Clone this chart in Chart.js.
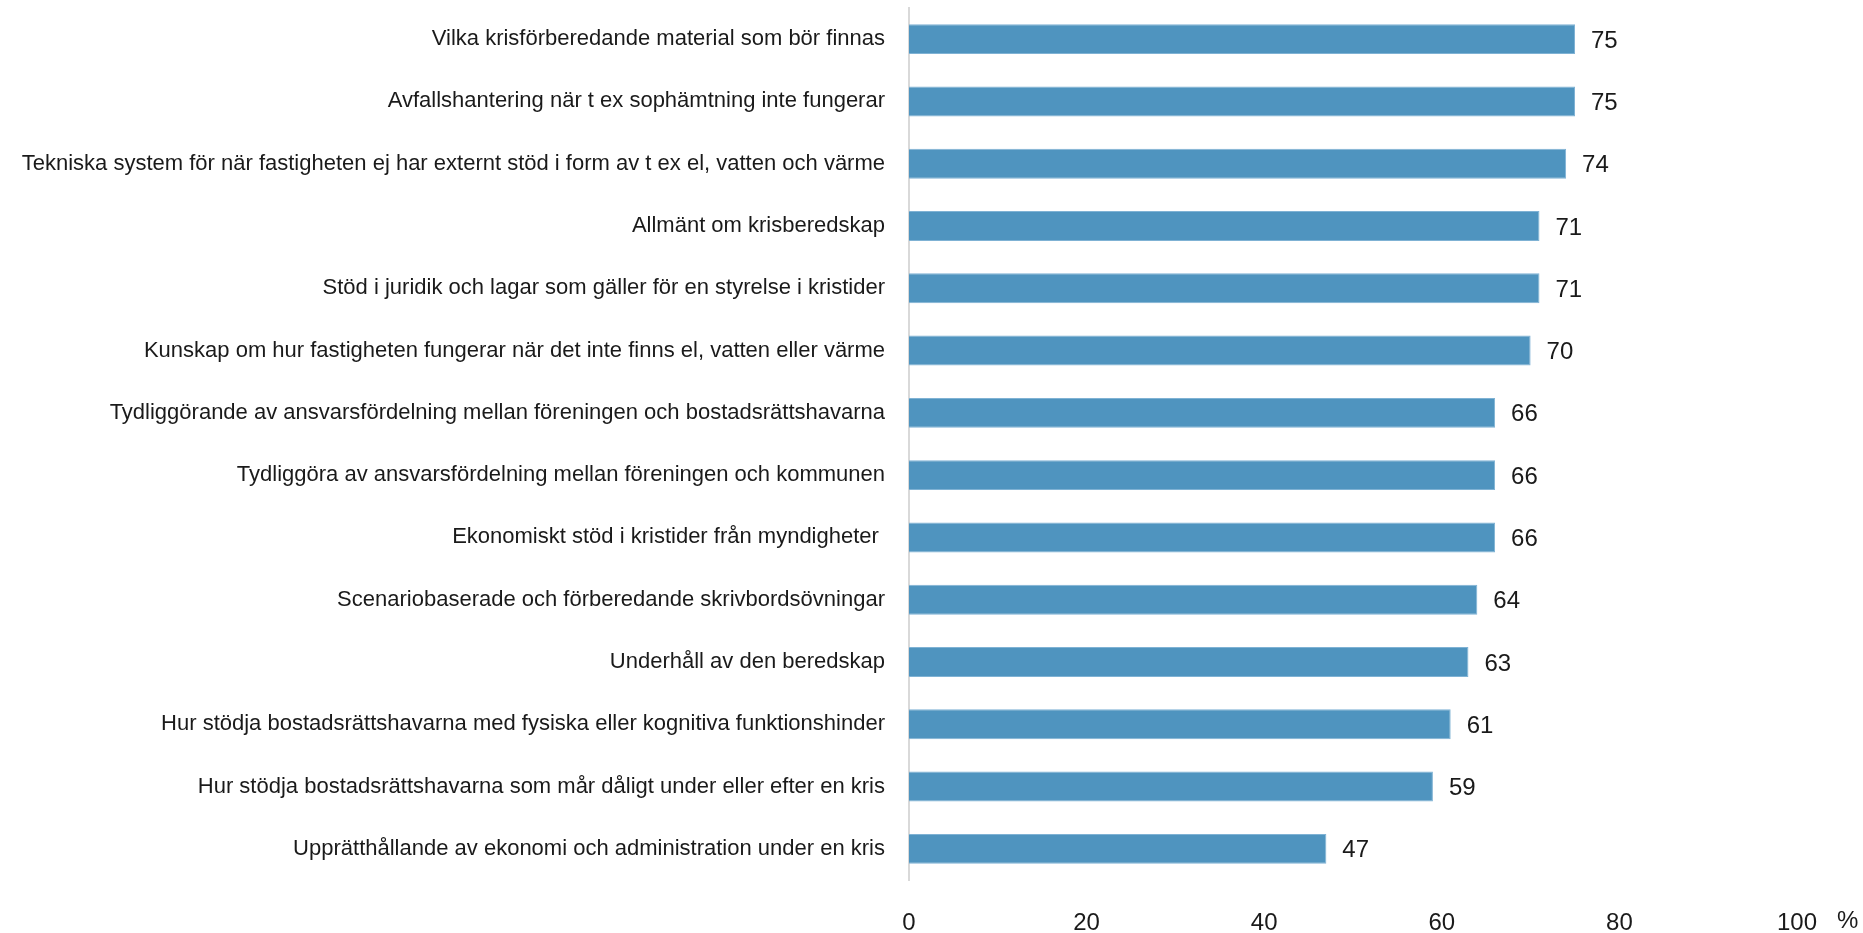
<!DOCTYPE html>
<html>
<head>
<meta charset="utf-8">
<script src="https://cdn.jsdelivr.net/npm/chart.js@4"></script>
<style>
  html, body { margin: 0; padding: 0; background: #fff; }
</style>
</head>
<body>
<canvas id="myChart" width="1863" height="933"></canvas>
<script>
const categories = [
  "Vilka krisförberedande material som bör finnas",
  "Avfallshantering när t ex sophämtning inte fungerar",
  "Tekniska system för när fastigheten ej har externt stöd i form av t ex el, vatten och värme",
  "Allmänt om krisberedskap",
  "Stöd i juridik och lagar som gäller för en styrelse i kristider",
  "Kunskap om hur fastigheten fungerar när det inte finns el, vatten eller värme",
  "Tydliggörande av ansvarsfördelning mellan föreningen och bostadsrättshavarna",
  "Tydliggöra av ansvarsfördelning mellan föreningen och kommunen",
  "Ekonomiskt stöd i kristider från myndigheter ",
  "Scenariobaserade och förberedande skrivbordsövningar",
  "Underhåll av den beredskap",
  "Hur stödja bostadsrättshavarna med fysiska eller kognitiva funktionshinder",
  "Hur stödja bostadsrättshavarna som mår dåligt under eller efter en kris",
  "Upprätthållande av ekonomi och administration under en kris"
];
const percentValues = [75, 75, 74, 71, 71, 70, 66, 66, 66, 64, 63, 61, 59, 47];
const unitLabel = "%";

const fontFamily = "'Liberation Sans', Arial, sans-serif";
const textColor = "#1a1a1a";
const xTickPadding = 29;

// value labels at the end of each bar, plus the "%" after the last tick
const valueLabels = {
  id: 'valueLabels',
  afterDatasetsDraw(chart) {
    const ctx = chart.ctx;
    const meta = chart.getDatasetMeta(0);
    ctx.save();
    ctx.font = "24px " + fontFamily;
    ctx.fillStyle = textColor;
    ctx.textAlign = 'left';
    ctx.textBaseline = 'middle';
    meta.data.forEach((bar, i) => {
      ctx.fillText(String(percentValues[i]), bar.x + 16, bar.y + 2);
    });
    const xScale = chart.scales.x;
    const x = xScale.getPixelForValue(100);
    ctx.textBaseline = 'top';
    ctx.fillText(unitLabel, x + 40, xScale.top + xTickPadding);
    ctx.restore();
  }
};

let myChart = new Chart(document.getElementById('myChart').getContext('2d'), {
  type: 'bar',
  data: {
    labels: categories,
    datasets: [{
      data: percentValues,
      backgroundColor: '#4f94bf',
      borderColor: '#7fb2d4',
      borderWidth: 1,
      barPercentage: 0.48,
      categoryPercentage: 1.0
    }]
  },
  options: {
    indexAxis: 'y',
    responsive: false,
    animation: false,
    devicePixelRatio: 1,
    layout: { padding: { top: 8, right: 66, bottom: 0, left: 0 } },
    plugins: {
      legend: { display: false },
      tooltip: { enabled: false }
    },
    scales: {
      x: {
        min: 0,
        max: 100,
        grid: { display: false, drawTicks: false },
        border: { display: false },
        afterFit(scale) { scale.height = 53; },
        ticks: {
          stepSize: 20,
          padding: xTickPadding,
          color: textColor,
          font: { family: fontFamily, size: 24 }
        }
      },
      y: {
        grid: { display: false, drawTicks: true, tickLength: 24 },
        border: { display: true, color: '#d9d9d9', width: 2 },
        afterFit(scale) { scale.width = 909; },
        ticks: {
          padding: 0,
          color: textColor,
          font: { family: fontFamily, size: 22, lineHeight: 0.6 }
        }
      }
    }
  },
  plugins: [valueLabels]
});
</script>
</body>
</html>
